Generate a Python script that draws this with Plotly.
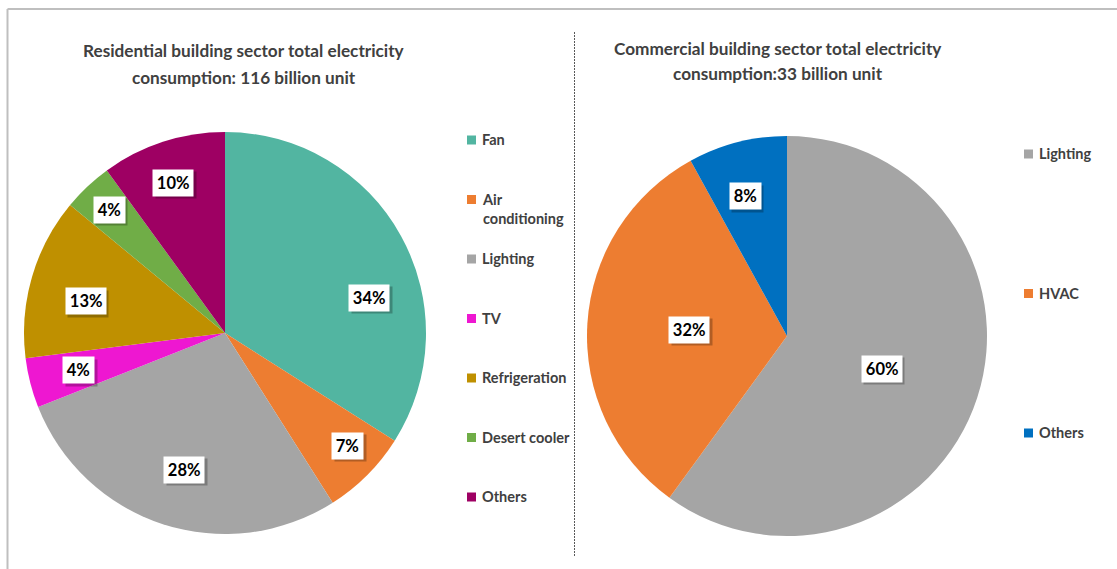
import math
import textwrap
import plotly.graph_objects as go

# ---- data -----------------------------------------------------------------
res_labels = ["Fan", "Air conditioning", "Lighting", "TV", "Refrigeration",
              "Desert cooler", "Others"]
res_values = [34, 7, 28, 4, 13, 4, 10]
res_colors = ["#52b5a1", "#ed7d31", "#a5a5a5", "#ee17d1", "#bf9000",
              "#70ad47", "#9e0063"]

com_labels = ["Lighting", "HVAC", "Others"]
com_values = [60, 32, 8]
com_colors = ["#a5a5a5", "#ed7d31", "#0070c0"]

res_title = ["Residential building sector total electricity",
             "consumption: 116 billion unit"]
com_title = ["Commercial building sector total electricity",
             "consumption:33 billion unit"]

# ---- layout parameters (pixels) ------------------------------------------
W, H = 1117, 569
FONT = "Lato"
TXT = "#404040"

# pie geometry: centre x, centre y, radius
res_geo = (225, 333, 201)
com_geo = (787, 336, 200)

# data-label placement: fraction of radius, angular nudge in degrees
res_lab_r = [0.74, 0.83, 0.71, 0.75, 0.71, 0.84, 0.79]
res_lab_nudge = [15, -2.5, -1.5, 0, -3.3, 0, -1]
com_lab_r = [0.50, 0.49, 0.73]
com_lab_nudge = [1, 0, -2.3]

# legend: square x, text x, first item y, spacing
res_leg = (471.5, 480, 140, 59.5)
com_leg = (1028.5, 1037, 154, 139.5)

# title: centre x, first line y, line spacing
res_title_pos = (244, 50, 27)
com_title_pos = (778, 48, 26)


def px(x):
    return x / W


def py(y):
    return 1 - y / H


def domain(geo):
    cx, cy, r = geo
    return dict(x=[px(cx - r), px(cx + r)], y=[py(cy + r), py(cy - r)])


fig = go.Figure()
for labels, values, colors, geo in [
    (res_labels, res_values, res_colors, res_geo),
    (com_labels, com_values, com_colors, com_geo),
]:
    fig.add_trace(go.Pie(
        labels=labels, values=values, sort=False, direction="clockwise",
        rotation=0, textinfo="none", hoverinfo="label+percent",
        marker=dict(colors=colors, line=dict(width=0)),
        domain=domain(geo), showlegend=False,
    ))

annotations = []
shapes = []


def add_value_labels(values, geo, lab_r, nudge):
    cx, cy, r = geo
    total = sum(values)
    start = 0.0
    for v, f, dn in zip(values, lab_r, nudge):
        mid = (start + v / 2) / total * 360 + dn
        start += v
        a = math.radians(mid)
        x = cx + f * r * math.sin(a)
        y = cy - f * r * math.cos(a)
        pct = f"{round(v / total * 100)}%"
        bw = 9.7 * (len(pct) - 1) + 15   # inner box width for the label
        bh = 20
        # drop shadow: a blank box of the same size, offset down-right
        annotations.append(dict(
            x=px(x + 2.5), y=py(y + 2.5), xref="paper", yref="paper",
            xanchor="center", yanchor="middle", width=bw, height=bh,
            text="&nbsp;", showarrow=False,
            font=dict(family=FONT, size=16.5, color="rgba(0,0,0,0)"),
            bgcolor="rgba(0,0,0,0.25)", borderpad=3,
        ))
        annotations.append(dict(
            x=px(x), y=py(y), xref="paper", yref="paper",
            xanchor="center", yanchor="middle", width=bw, height=bh,
            text=f"<b>{pct}</b>", showarrow=False,
            font=dict(family=FONT, size=16.5, color="#000000"),
            bgcolor="#ffffff", borderpad=3,
        ))


def add_legend(labels, colors, leg):
    sx, tx, y0, step = leg
    fs = 14.5
    for i, (lab, col) in enumerate(zip(labels, colors)):
        y = y0 + i * step
        shapes.append(dict(type="rect", xref="paper", yref="paper",
                           x0=px(sx - 4.5), x1=px(sx + 4.5),
                           y0=py(y + 4.5), y1=py(y - 4.5),
                           fillcolor=col, line=dict(width=0)))
        text = "<br>".join(textwrap.wrap(lab, 14))
        annotations.append(dict(
            x=px(tx), y=py(y - 11), xref="paper", yref="paper",
            xanchor="left", yanchor="top", align="left",
            text=f"<b>{text}</b>", showarrow=False,
            font=dict(family=FONT, size=fs, color=TXT),
        ))


def add_title(lines, pos):
    x, y0, step = pos
    for i, line in enumerate(lines):
        annotations.append(dict(
            x=px(x), y=py(y0 + i * step), xref="paper", yref="paper",
            text=f"<b>{line}</b>", xanchor="center", yanchor="middle",
            showarrow=False, font=dict(family=FONT, size=17.2, color=TXT),
        ))


add_value_labels(res_values, res_geo, res_lab_r, res_lab_nudge)
add_value_labels(com_values, com_geo, com_lab_r, com_lab_nudge)
add_legend(res_labels, res_colors, res_leg)
add_legend(com_labels, com_colors, com_leg)
add_title(res_title, res_title_pos)
add_title(com_title, com_title_pos)

# outer frame (top and left edges) and dashed divider
shapes.append(dict(type="line", xref="paper", yref="paper",
                   x0=px(7.5), x1=px(W + 5), y0=py(9), y1=py(9),
                   line=dict(color="#bfbfbf", width=2)))
shapes.append(dict(type="line", xref="paper", yref="paper",
                   x0=px(7.5), x1=px(7.5), y0=py(9), y1=py(H + 5),
                   line=dict(color="#bfbfbf", width=2)))
shapes.append(dict(type="line", xref="paper", yref="paper",
                   x0=px(574.5), x1=px(574.5), y0=py(32), y1=py(556),
                   line=dict(color="#595959", width=1, dash="2px,1px")))

fig.update_layout(
    width=W, height=H, margin=dict(l=0, r=0, t=0, b=0),
    paper_bgcolor="#ffffff", plot_bgcolor="#ffffff",
    annotations=annotations, shapes=shapes,
)
fig.write_html("out.html")
